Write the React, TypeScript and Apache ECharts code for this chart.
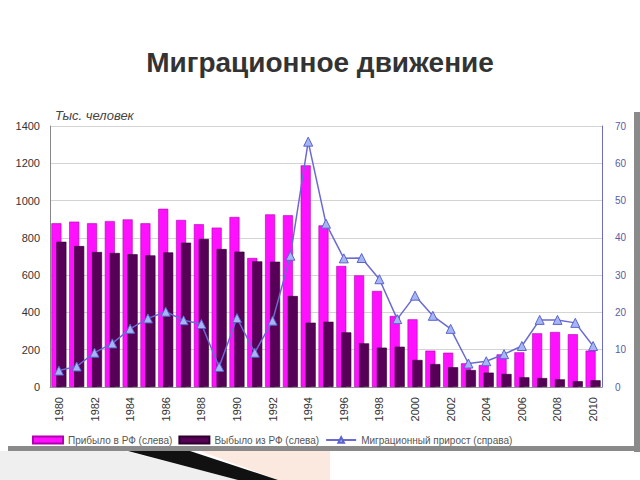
import React, { useEffect, useRef } from "react";
import * as echarts from "echarts";

const years = [
  "1980","1981","1982","1983","1984","1985","1986","1987","1988","1989",
  "1990","1991","1992","1993","1994","1995","1996","1997","1998","1999",
  "2000","2001","2002","2003","2004","2005","2006","2007","2008","2009","2010",
];
const arrived = [
  878, 887, 878, 890, 899, 878, 956, 896, 873, 855,
  912, 692, 926, 921, 1189, 867, 649, 599, 515, 381,
  363, 195, 184, 127, 118, 175, 186, 288, 295, 283, 195,
];
const departed = [
  779, 756, 724, 719, 712, 706, 722, 774, 794, 740,
  726, 674, 672, 488, 345, 350, 293, 234, 211, 216,
  145, 123, 106, 91, 77, 70, 52, 48, 41, 31, 36,
];
const netGain = [
  4.4, 5.5, 9.2, 11.7, 15.6, 18.4, 20.2, 17.9, 16.9, 5.4,
  18.5, 9.2, 17.8, 35.2, 65.8, 43.8, 34.5, 34.6, 28.9, 18.2,
  24.5, 19.1, 15.6, 6.3, 6.9, 8.8, 11.0, 18.0, 18.0, 17.2, 11.0,
];
const seriesNames = [
  "Прибыло в РФ (слева)",
  "Выбыло из РФ (слева)",
  "Миграционный прирост (справа)",
];

export default function App() {
  const ref = useRef<HTMLDivElement>(null);
  useEffect(() => {
    if (!ref.current) return;
    const chart = echarts.init(ref.current, undefined, { renderer: "svg" });
    chart.setOption({
      animation: false,
      backgroundColor: "#ffffff",
      textStyle: { fontFamily: "Liberation Sans, Arial, sans-serif" },
      title: {
        text: "Миграционное движение",
        left: "center",
        top: 43,
        textStyle: { fontSize: 28, fontWeight: "bold", color: "#333333", fontFamily: "Liberation Sans, Arial, sans-serif" },
      },
      graphic: [
        { type: "rect", shape: { x: 634, y: 112, width: 6, height: 340 }, style: { fill: "#8a8a8a" }, z: -1 },
        { type: "rect", shape: { x: 8, y: 446, width: 632, height: 5 }, style: { fill: "#8a8a8a" }, z: -1 },
        { type: "polygon", shape: { points: [[0, 451], [125, 451], [240, 480], [0, 480]] }, style: { fill: "#efefef" }, z: -1 },
        { type: "polygon", shape: { points: [[200, 451], [330, 451], [330, 480], [278, 480]] }, style: { fill: "#fbe9e0" }, z: -1 },
        { type: "polygon", shape: { points: [[128, 451], [190, 451], [278, 480], [238, 480]] }, style: { fill: "#111111" }, z: -1 },
        {
          type: "text",
          left: 55,
          top: 109,
          style: { text: "Тыс. человек", fill: "#444444", font: "italic 13px Liberation Sans, Arial, sans-serif" },
        },
      ],
      legend: {
        left: 27,
        top: 430,
        itemWidth: 30,
        itemHeight: 7,
        itemGap: 6,
        textStyle: { fontSize: 10, color: "#555555" },
        data: [
          { name: seriesNames[0], icon: "rect" },
          { name: seriesNames[1], icon: "rect" },
          { name: seriesNames[2] },
        ],
      },
      grid: { left: 50, right: 38, top: 126, bottom: 93 },
      xAxis: {
        type: "category",
        data: years,
        axisTick: { show: false },
        axisLine: { show: true, lineStyle: { color: "#999999" } },
        axisLabel: { rotate: 90, interval: 1, fontSize: 11, color: "#333333", margin: 10 },
      },
      yAxis: [
        {
          type: "value",
          min: 0,
          max: 1400,
          interval: 200,
          axisLine: { show: true, lineStyle: { color: "#888888" } },
          axisTick: { show: false },
          axisLabel: { fontSize: 11, color: "#333333", margin: 10, formatter: (v: number) => String(v) },
          splitLine: { lineStyle: { color: "#d4d4d4" } },
        },
        {
          type: "value",
          min: 0,
          max: 70,
          interval: 10,
          axisLine: { show: true, lineStyle: { color: "#6b6bc0" } },
          axisTick: { show: false },
          axisLabel: { fontSize: 10, color: "#5a5aaa", margin: 13 },
          splitLine: { show: false },
        },
      ],
      series: [
        {
          name: seriesNames[0],
          type: "bar",
          data: arrived,
          barWidth: 10,
          barGap: "-50%",
          itemStyle: { color: "#ff10ff", borderColor: "#b000b0", borderWidth: 0.6 },
        },
        {
          name: seriesNames[1],
          type: "bar",
          data: departed,
          barWidth: 10,
          itemStyle: { color: "#560058", borderColor: "#2a002a", borderWidth: 0.6 },
        },
        {
          name: seriesNames[2],
          type: "line",
          yAxisIndex: 1,
          data: netGain,
          symbol: "triangle",
          symbolSize: 9,
          z: 5,
          lineStyle: { color: "#6a6ad2", width: 1.5 },
          itemStyle: { color: "#a6b6f4", borderColor: "#5a64cc", borderWidth: 1 },
        },
      ],
    });
    return () => chart.dispose();
  }, []);
  return <div ref={ref} style={{ width: 640, height: 480, position: "absolute", left: 0, top: 0 }} />;
}
